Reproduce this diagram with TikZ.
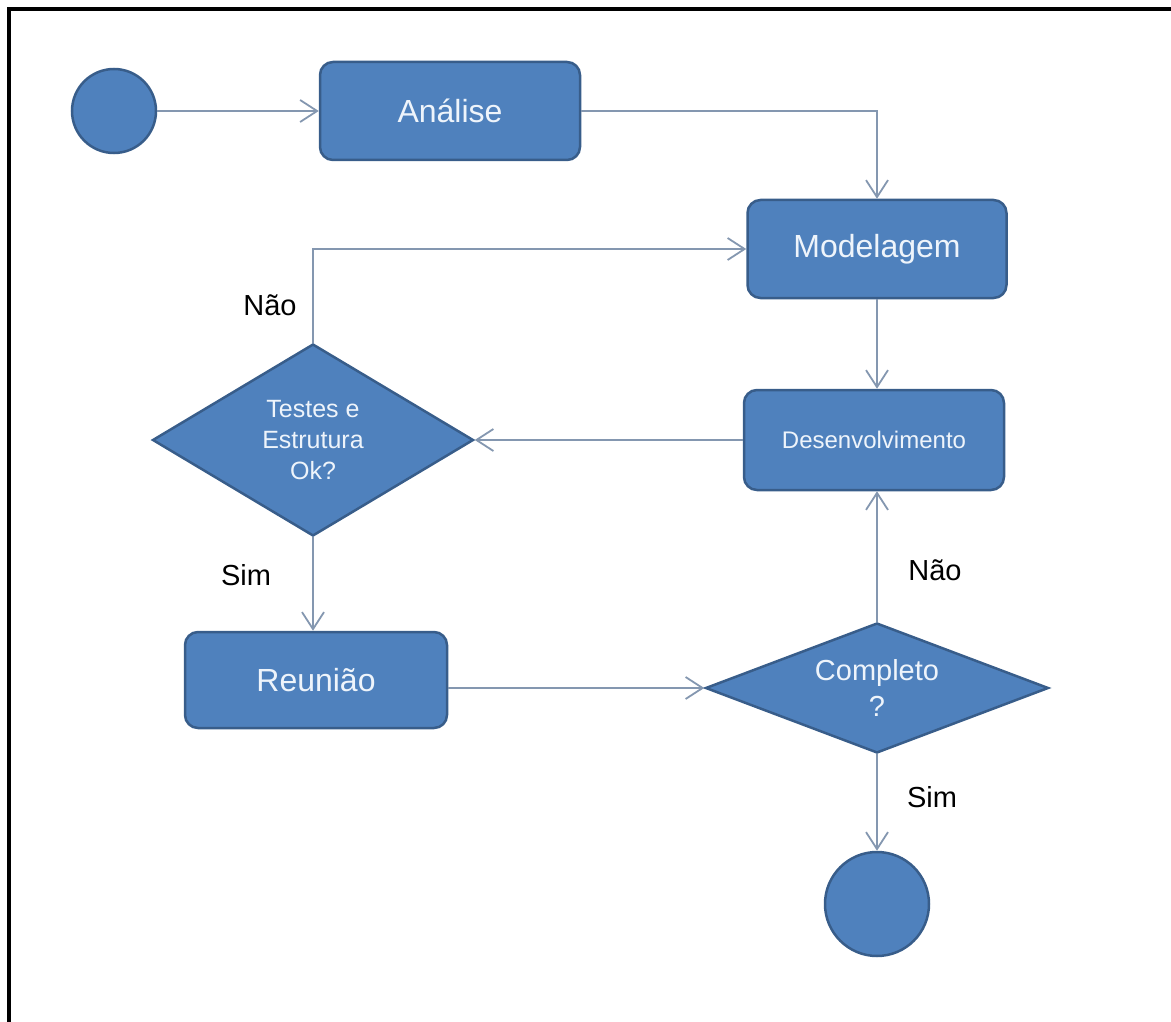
\documentclass[tikz,border=0pt]{standalone}
\usepackage{fontspec}
\setmainfont{Liberation Sans}
\usetikzlibrary{shapes.geometric,arrows.meta}

\definecolor{boxfill}{HTML}{4F81BD}
\definecolor{boxline}{HTML}{385D8A}
\definecolor{wire}{HTML}{8497B0}
\definecolor{boxtext}{HTML}{EEF4FB}

\tikzset{
  every node/.style={font=\fontsize{32}{38}\selectfont},
  state/.style={rectangle, rounded corners=13pt, fill=boxfill, draw=boxline,
                line width=2.5pt, text=boxtext, inner sep=0pt},
  decision/.style={diamond, fill=boxfill, draw=boxline, line width=2.5pt,
                   text=boxtext, inner sep=0pt, align=center},
  terminal/.style={circle, fill=boxfill, draw=boxline, line width=2.5pt, inner sep=0pt},
  flow/.style={draw=wire, line width=2pt,
               -{Straight Barb[length=17pt,width=22pt,line width=1.8pt]}},
  answer/.style={text=black, font=\fontsize{29}{34}\selectfont}
}

\begin{document}
\begin{tikzpicture}[x=1pt,y=-1pt]
  \useasboundingbox (0,0) rectangle (1171,1022);

  % frame (top and left rules)
  \draw[line width=4pt] (9,1022) -- (9,9) -- (1171,9);

  % nodes
  \node[terminal, minimum size=84pt] (inicio) at (114,111) {};
  \node[state, minimum width=260pt, minimum height=98pt] (analise) at (450,111) {Análise};
  \node[state, minimum width=259pt, minimum height=98pt] (modelagem) at (877,249) {Modelagem};
  \node[state, minimum width=260pt, minimum height=100pt,
        font=\fontsize{24}{29}\selectfont] (desenv) at (874,440) {Desenvolvimento};
  \node[decision, minimum width=321pt, minimum height=192pt, aspect=1.67,
        font=\fontsize{25}{31}\selectfont] (testes) at (313,440) {Testes e\\Estrutura\\Ok?};
  \node[state, minimum width=262pt, minimum height=96pt] (reuniao) at (316,680) {Reunião};
  \node[decision, minimum width=343pt, minimum height=130pt, aspect=2.63,
        font=\fontsize{29}{36}\selectfont] (completo) at (877,688) {Completo\\?};
  \node[terminal, minimum size=104pt] (fim) at (877,904) {};

  % connectors
  \draw[flow] (inicio.east) -- (analise.west);
  \draw[flow] (analise.east) -| (modelagem.north);
  \draw[flow] (modelagem.south) -- (modelagem.south |- desenv.north);
  \draw[flow] (desenv.west) -- (testes.east);
  \draw[flow] (testes.north) |- (modelagem.west);
  \draw[flow] (testes.south) -- (testes.south |- reuniao.north);
  \draw[flow] (reuniao.east |- completo.west) -- (completo.west);
  \draw[flow] (completo.north) -- (completo.north |- desenv.south);
  \draw[flow] (completo.south) -- (fim.north);

  % branch labels
  \node[answer] (nao1) at (270,305) {Não};
  \node[answer] (sim1) at (246,575) {Sim};
  \node[answer] (nao2) at (935,570) {Não};
  \node[answer] (sim2) at (932,797) {Sim};
\end{tikzpicture}
\end{document}
